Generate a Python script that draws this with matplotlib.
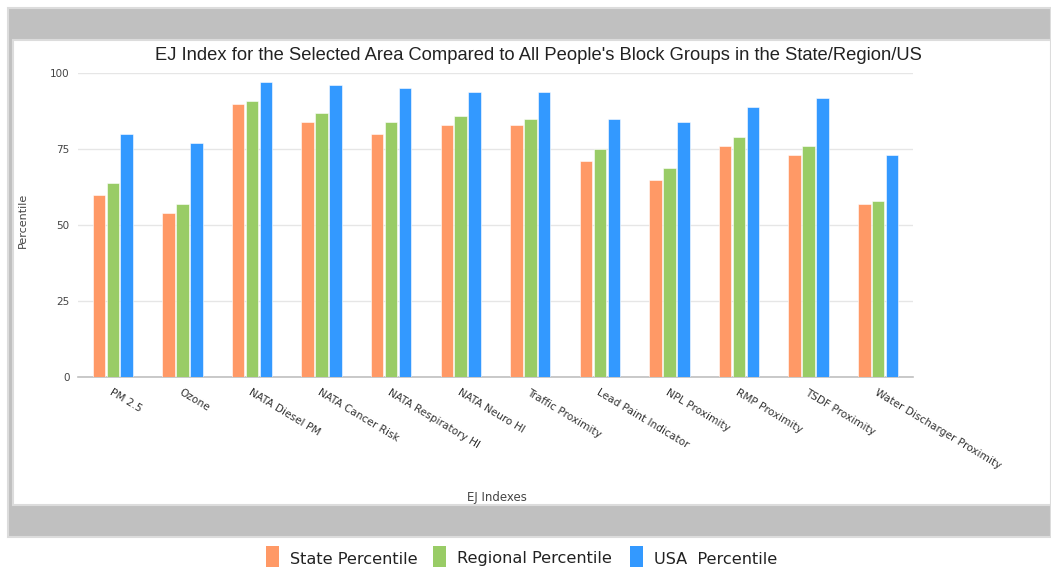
import matplotlib
matplotlib.use('Agg')
import matplotlib.pyplot as plt
import numpy as np
from matplotlib.patches import Rectangle

# ── data ─────────────────────────────────────────────────────────────────────
categories = ['PM 2.5', 'Ozone', 'NATA Diesel PM', 'NATA Cancer Risk',
              'NATA Respiratory HI', 'NATA Neuro HI', 'Traffic Proximity',
              'Lead Paint Indicator', 'NPL Proximity', 'RMP Proximity',
              'TSDF Proximity', 'Water Discharger Proximity']
state_pct    = [60, 54, 90, 84, 80, 83, 83, 71, 65, 76, 73, 57]
regional_pct = [64, 57, 91, 87, 84, 86, 85, 75, 69, 79, 76, 58]
usa_pct      = [80, 77, 97, 96, 95, 94, 94, 85, 84, 89, 92, 73]
series_names = ['State Percentile', 'Regional Percentile', 'USA  Percentile']
colors = ['#FF9966', '#99CC66', '#3399FF']
yticks = [0, 25, 50, 75, 100]

W, H = 1051, 567
fig = plt.figure(figsize=(W / 100, H / 100), dpi=100)

# background frame, drawn in pixel coords (y down)
bg = fig.add_axes([0, 0, 1, 1], zorder=-1)
bg.set_xlim(0, W)
bg.set_ylim(H, 0)
bg.axis('off')
bg.add_patch(Rectangle((8, 8), W - 8, 529, facecolor='#c0c0c0',
                       edgecolor='#dcdcdc', linewidth=1.5))
bg.add_patch(Rectangle((13, 40), W - 13, 465, facecolor='white',
                       edgecolor='#dcdcdc', linewidth=1.5))

# ── bars ─────────────────────────────────────────────────────────────────────
ax = fig.add_axes([78 / W, 1 - 377.3 / H, (913 - 78) / W, (377.3 - 73.3) / H])
x = np.arange(len(categories))
step, bw = 0.2, 0.18
for k, (vals, c) in enumerate(zip([state_pct, regional_pct, usa_pct], colors)):
    ax.bar(x + (k - 1) * step, vals, width=bw, color=c,
           edgecolor='white', linewidth=0.4, zorder=3)

ax.set_xlim(-0.5, len(categories) - 0.5)
ax.set_ylim(0, 100)
ax.set_yticks(yticks)
ax.set_yticklabels([str(v) for v in yticks], fontsize=7.5, color='#444444')
ax.tick_params(axis='y', length=0, pad=6)
ax.grid(axis='y', color='#e6e6e6', linewidth=1, zorder=0)
for s in ['top', 'right', 'left']:
    ax.spines[s].set_visible(False)
ax.spines['bottom'].set_color('#c0c0c0')
ax.spines['bottom'].set_linewidth(1.2)

ax.set_xticks(x)
ax.set_xticklabels(categories, rotation=-31, ha='left', va='top',
                   rotation_mode='anchor', fontsize=7.6, color='#333333')
ax.tick_params(axis='x', length=0, pad=7)

# titles and axis names
fig.text(538 / W, 1 - 55 / H,
         "EJ Index for the Selected Area Compared to All People's Block Groups in the State/Region/US",
         ha='center', va='center', fontsize=13.2, family='Liberation Sans', color='#222222')
fig.text(23 / W, 1 - 220 / H, 'Percentile', rotation=90, ha='center', va='center',
         fontsize=8, color='#444444')
fig.text(497 / W, 1 - 498 / H, 'EJ Indexes', ha='center', va='center',
         fontsize=8.5, color='#444444')

# legend below the frame
leg_x = [266, 433, 630]
for lx, name, c in zip(leg_x, series_names, colors):
    bg.add_patch(Rectangle((lx, 546), 13, 24, facecolor=c, edgecolor='none'))
    bg.text(lx + 24, 559, name, ha='left', va='center', fontsize=11.6, color='#222222')

fig.savefig('out.png', dpi=100)
